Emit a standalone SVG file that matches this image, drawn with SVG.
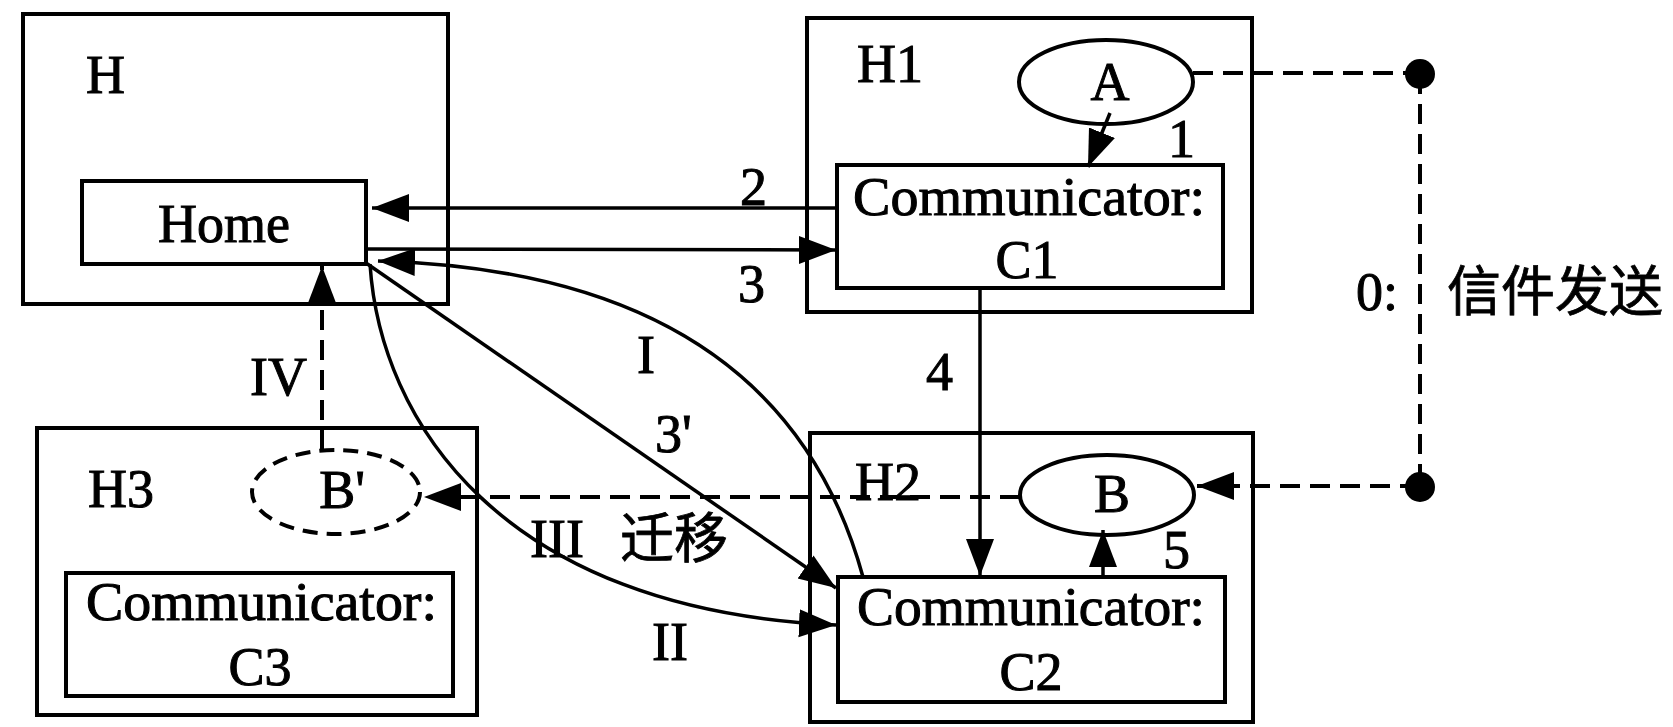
<svg xmlns="http://www.w3.org/2000/svg" width="1673" height="727" viewBox="0 0 1673 727">
<style>
.box{fill:none;stroke:#000;stroke-width:4}
.ell{fill:none;stroke:#000;stroke-width:4}
.dash{fill:none;stroke:#000;stroke-width:4;stroke-dasharray:20 10}
.edge{fill:none;stroke:#000;stroke-width:3.5}
.t{font-family:"Liberation Serif","Times New Roman",serif;font-size:54px;fill:#000;stroke:#000;stroke-width:1}
.c{text-anchor:middle}
.cjk{font-family:"Noto Sans CJK SC","Noto Sans",sans-serif;font-size:54px;fill:#000;stroke:#000;stroke-width:0.8}
</style>
<defs>
<marker id="ah" markerWidth="40" markerHeight="30" refX="37" refY="15" orient="auto" markerUnits="userSpaceOnUse">
<path d="M0,1 L37,15 L0,29 z" fill="#000"/>
</marker>
</defs>
<rect width="1673" height="727" fill="#fff"/>

<g id="H">
<rect class="box" x="23" y="14" width="425" height="290"/>
<text class="t" x="86" y="93">H</text>
</g>
<g id="Home">
<rect class="box" x="82" y="181" width="284" height="83"/>
<text class="t c" x="224" y="242">Home</text>
</g>
<g id="H1">
<rect class="box" x="807" y="18" width="445" height="294"/>
<text class="t" x="857" y="82">H1</text>
</g>
<g id="A">
<ellipse class="ell" cx="1106" cy="82" rx="87" ry="42"/>
<text class="t c" x="1110" y="100">A</text>
</g>
<g id="C1">
<rect class="box" x="837" y="165" width="386" height="123"/>
<text class="t" x="853" y="215" textLength="352" lengthAdjust="spacingAndGlyphs">Communicator:</text>
<text class="t c" x="1027" y="278">C1</text>
</g>
<g id="H2">
<rect class="box" x="810" y="433" width="443" height="289"/>
<text class="t" x="855" y="500">H2</text>
</g>
<g id="B">
<ellipse class="ell" cx="1107" cy="495" rx="87" ry="40"/>
<text class="t c" x="1112" y="512">B</text>
</g>
<g id="C2">
<rect class="box" x="838" y="577" width="387" height="125"/>
<text class="t" x="857" y="625" textLength="348" lengthAdjust="spacingAndGlyphs">Communicator:</text>
<text class="t c" x="1031" y="690">C2</text>
</g>
<g id="H3">
<rect class="box" x="37" y="428" width="440" height="287"/>
<text class="t" x="88" y="507">H3</text>
</g>
<g id="Bprime">
<ellipse class="ell" cx="336" cy="492" rx="84" ry="42" stroke-dasharray="15 9"/>
<text class="t c" x="342" y="508">B'</text>
</g>
<g id="C3">
<rect class="box" x="66" y="573" width="387" height="123"/>
<text class="t" x="86" y="620" textLength="351" lengthAdjust="spacingAndGlyphs">Communicator:</text>
<text class="t c" x="260" y="685">C3</text>
</g>
<g id="dots">
<circle cx="1420" cy="74" r="15" fill="#000"/>
<circle cx="1420" cy="487" r="15" fill="#000"/>
</g>

<g id="connectors">
<path class="edge" d="M1110,113 L1088,167" marker-end="url(#ah)"/>
<path class="edge" d="M837,208 L372,208" marker-end="url(#ah)"/>
<path class="edge" d="M366,249 L836,250" marker-end="url(#ah)"/>
<path class="edge" d="M980,288 L980,576" marker-end="url(#ah)"/>
<path class="edge" d="M1103,577 L1103,530" marker-end="url(#ah)"/>
<path class="edge" d="M863,577 C820,420 700,270 378,261" marker-end="url(#ah)"/>
<path class="edge" d="M366,263 L836,588" marker-end="url(#ah)"/>
<path class="edge" d="M370,264 C380,420 500,610 836,625" marker-end="url(#ah)"/>
<path class="dash" d="M322,450 L322,266" marker-end="url(#ah)"/>
<path class="dash" d="M1020,497 L424,497" marker-end="url(#ah)"/>
<path class="dash" d="M1193,73 L1420,73"/>
<path class="dash" d="M1420,74 L1420,487"/>
<path class="dash" d="M1420,486 L1197,486" marker-end="url(#ah)"/>
</g>

<g id="labels">
<text class="t" x="1168" y="157">1</text>
<text class="t" x="740" y="205">2</text>
<text class="t" x="738" y="302">3</text>
<text class="t" x="926" y="390">4</text>
<text class="t" x="1163" y="568">5</text>
<text class="t" x="637" y="373">I</text>
<text class="t" x="655" y="452">3'</text>
<text class="t" x="530" y="557">III</text>
<text class="cjk" x="620" y="558">迁移</text>
<text class="t" x="652" y="660">II</text>
<text class="t" x="250" y="395">IV</text>
<text class="t" x="1356" y="310">0:</text>
<text class="cjk" x="1447" y="311">信件发送</text>
</g>
</svg>
